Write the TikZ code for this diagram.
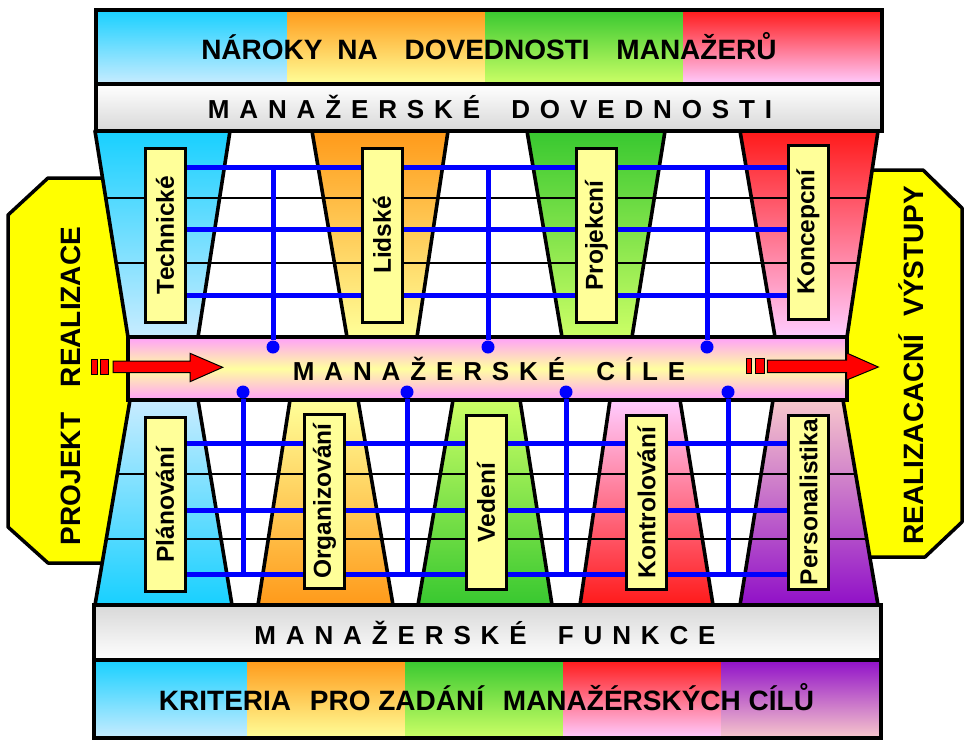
\documentclass[tikz,border=0pt]{standalone}
\usepackage{fontspec}
\setmainfont{Liberation Sans}
\newfontfamily\spacedfont[LetterSpace=38]{Liberation Sans}

\pgfdeclarelayer{back}
\pgfdeclarelayer{wires}
\pgfsetlayers{back,wires,main}

\definecolor{cyanT}{RGB}{24,208,255}
\definecolor{cyanL}{RGB}{200,236,255}
\definecolor{oranT}{RGB}{255,154,26}
\definecolor{oranL}{RGB}{255,255,153}
\definecolor{grnT}{RGB}{56,200,48}
\definecolor{grnL}{RGB}{204,255,102}
\definecolor{redT}{RGB}{255,26,26}
\definecolor{redL}{RGB}{255,204,255}
\definecolor{purT}{RGB}{144,16,200}
\definecolor{purL}{RGB}{248,200,204}
\definecolor{boxY}{RGB}{255,255,153}
\definecolor{sideY}{RGB}{255,255,0}
\definecolor{grayB}{RGB}{216,216,216}
\definecolor{pinkM}{RGB}{255,160,250}
\definecolor{yelM}{RGB}{255,255,160}

\begin{document}
\begin{tikzpicture}[
    x=1pt, y=-1pt,
    edge/.style={draw=black, line width=3.6pt, line join=round},
    band/.style={draw=black, line width=4pt},
    grid/.style={black, line width=2pt},
    wire/.style={blue, line width=5pt},
    dot/.style={circle, fill=blue, inner sep=0pt, minimum size=13pt},
    lbl/.style={draw=black, line width=3pt, fill=boxY, rotate=90, minimum width=174pt,
        minimum height=40pt, inner sep=0pt, font=\fontsize{24.5}{24.5}\selectfont\bfseries},
    side/.style={draw=black, line width=3.5pt, fill=sideY, line join=round},
    sidetext/.style={rotate=90, anchor=base, inner sep=0pt, font=\fontsize{28}{28}\selectfont\bfseries},
    title/.style={anchor=base, inner sep=0pt, font=\fontsize{28}{28}\selectfont\bfseries},
    spaced/.style={anchor=base, inner sep=0pt, font=\spacedfont\bfseries\fontsize{26}{26}\selectfont},
    arrowpart/.style={draw=black, line width=1pt, fill=red}
]
\useasboundingbox (0,0) rectangle (971,745);

\begin{pgfonlayer}{back}
% side panels
\draw[side] (140,178) -- (48,178) -- (8,215) -- (8,527) -- (48,563) -- (140,563) -- cycle;
\draw[side] (830,170) -- (923,170) -- (962,208) -- (962,522) -- (925,557) -- (830,557) -- cycle;

% white areas between the bands
\fill[white] (95,131) -- (878,131) -- (847,337) -- (128,337) -- cycle;
\fill[white] (130,400) -- (843,400) -- (878,605) -- (95,605) -- cycle;

% upper trapezoids (dovednosti)
\foreach \a/\b/\c/\d/\ct/\cb in {95/230/128/198/cyanT/cyanL, 312/448/347/417/oranT/oranL,
    527/665/562/632/grnT/grnL, 740/878/775/847/redT/redL}
  \draw[edge, top color=\ct, bottom color=\cb] (\a,131) -- (\b,131) -- (\d,337) -- (\c,337) -- cycle;

% lower trapezoids (funkce)
\foreach \a/\b/\c/\d/\ct/\cb in {130/198/95/232/cyanL/cyanT, 290/358/258/393/oranL/oranT,
    453/520/418/552/grnL/grnT, 610/680/580/713/redL/redT, 773/843/740/878/purL/purT}
  \draw[edge, top color=\ct, bottom color=\cb] (\a,400) -- (\b,400) -- (\d,605) -- (\c,605) -- cycle;

% thin grid lines
\draw[grid] (105.7,198) -- (867.9,198);
\draw[grid] (116.3,263) -- (858,263);
\draw[grid] (117.4,474) -- (855.6,474);
\draw[grid] (106.3,539) -- (866.7,539);

% top bands
\foreach \a/\b/\ct/\cb in {96/287/cyanT/cyanL, 287/485/oranT/oranL, 485/683/grnT/grnL, 683/882/redT/redL}
  \fill[top color=\ct, bottom color=\cb] (\a,10) rectangle (\b,84);
\draw[band] (96,10) rectangle (882,84);
\draw[band, top color=white, bottom color=grayB] (96,84) rectangle (882,131);

% middle band
\draw[band, top color=pinkM, bottom color=pinkM, middle color=yelM] (128,337) rectangle (847,400);

% bottom bands
\draw[band, top color=grayB, bottom color=white] (94,605) rectangle (881,660);
\foreach \a/\b/\ct/\cb in {94/247/cyanT/cyanL, 247/405/oranT/oranL, 405/563/grnT/grnL,
    563/721/redT/redL, 721/881/purT/purL}
  \fill[top color=\ct, bottom color=\cb] (\a,660) rectangle (\b,738);
\draw[band] (94,660) rectangle (881,738);
\end{pgfonlayer}

% band texts
\node[title] (naroky) at (489,59) {NÁROKY\hspace{7pt} NA\hspace{19pt} DOVEDNOSTI\hspace{19pt} MANAŽERŮ};
\node[spaced] (dovednosti) at (490,118) {MANAŽERSKÉ\hspace{14pt} DOVEDNOSTI};
\node[spaced] (cile) at (489,380) {MANAŽERSKÉ\hspace{14pt} CÍLE};
\node[spaced] (funkce) at (485,644) {MANAŽERSKÉ\hspace{14pt} FUNKCE};
\node[title] (kriteria) at (486.5,710) {KRITERIA\hspace{11pt} PRO ZADÁNÍ\hspace{11pt} MANAŽÉRSKÝCH CÍLŮ};

% side texts
\node[sidetext] (projekt) at (80,386) {PROJEKT\hspace{18pt} REALIZACE};
\node[sidetext] (vystupy) at (923,365) {REALIZACACNÍ\hspace{10pt} VÝSTUPY};

% dovednosti
\node[lbl] (techn) at (165,235) {Technické};
\node[lbl] (lidske) at (382,235) {Lidské};
\node[lbl] (projek) at (596.5,235.5) {Projekcní};
\node[lbl] (konc) at (808,232) {Koncepcní};

% funkce
\node[lbl] (plan) at (165,504.5) {Plánování};
\node[lbl] (organ) at (324.5,501) {Organizování};
\node[lbl] (vedeni) at (486,502.5) {Vedení};
\node[lbl] (kontr) at (646.5,502.5) {Kontrolování};
\node[lbl] (pers) at (808.5,502) {Personalistika};

% wire levels
\coordinate (u1) at (0,167);
\coordinate (u2) at (0,229);
\coordinate (u3) at (0,295);
\coordinate (l1) at (0,443);
\coordinate (l2) at (0,510);
\coordinate (l3) at (0,574);

% dots on the goals band
\node[dot] (d1) at (273,347) {};
\node[dot] (d2) at (488,347) {};
\node[dot] (d3) at (707,347) {};
\node[dot] (d4) at (243,392) {};
\node[dot] (d5) at (407,392) {};
\node[dot] (d6) at (566,392) {};
\node[dot] (d7) at (728,392) {};

\begin{pgfonlayer}{wires}
\foreach \u in {u1,u2,u3}
  \draw[wire] (techn |- \u) -- (konc |- \u);
\foreach \d in {d1,d2,d3}
  \draw[wire] (\d) -- (\d |- u1);
\foreach \u in {l1,l2,l3}
  \draw[wire] (plan |- \u) -- (pers |- \u);
\foreach \d in {d4,d5,d6,d7}
  \draw[wire] (\d) -- (\d |- l3);
\end{pgfonlayer}

% arrows
\draw[arrowpart] (91.7,359.3) rectangle (97.3,374);
\draw[arrowpart] (100,359.3) rectangle (108.3,374);
\draw[arrowpart] (113,361) -- (190,361) -- (190,353.3) -- (222.7,367.3) -- (190,381.7) -- (190,372.7) -- (113,372.7) -- cycle;
\draw[arrowpart] (746.7,358.3) rectangle (751.7,373.3);
\draw[arrowpart] (755,358.3) rectangle (764,373.3);
\draw[arrowpart] (767.3,360) -- (846.7,360) -- (846.7,353) -- (878.3,367) -- (846.7,380) -- (846.7,372.7) -- (767.3,372.7) -- cycle;

\end{tikzpicture}
\end{document}
